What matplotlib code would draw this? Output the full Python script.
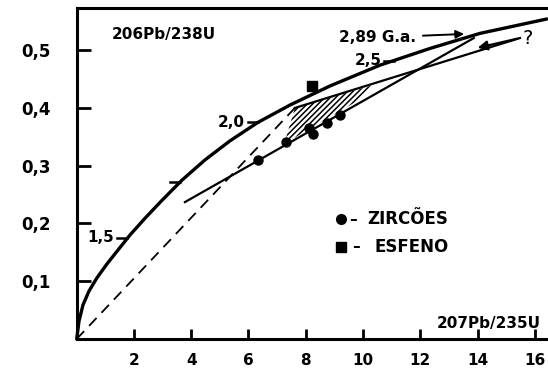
import matplotlib
matplotlib.use("Agg")
import matplotlib.pyplot as plt
from matplotlib.patches import Polygon

plt.rcParams["font.family"] = ["DejaVu Sans"]
plt.rcParams["font.weight"] = "bold"
plt.rcParams["hatch.linewidth"] = 1.1

# concordia curve
conc_x = [0, 0.080, 0.220, 0.429, 0.709, 1.058, 1.442, 1.861, 2.385, 2.978, 3.677,
          4.480, 5.353, 6.330, 7.448, 8.844, 10.59, 12.34, 14.08, 16.42]
conc_y = [0, 0.031, 0.059, 0.083, 0.106, 0.130, 0.154, 0.180, 0.209, 0.240, 0.275,
          0.310, 0.343, 0.375, 0.405, 0.438, 0.474, 0.503, 0.529, 0.554]

# age marks on the concordia (G.a.)
age_labels = ["1,5", "", "2,0", "2,5"]
age_x = [1.76, 3.61, 6.33, 11.09]
age_y = [0.175, 0.272, 0.375, 0.482]

# zircons and sphene
zircon_x = [6.33, 7.31, 8.11, 8.25, 8.74, 9.19]
zircon_y = [0.310, 0.341, 0.365, 0.355, 0.374, 0.388]
sphene_x = [8.22]
sphene_y = [0.438]

# discordia through zircons
disc_x = [3.78, 13.87]
disc_y = [0.237, 0.521]

# dashed line from origin
dash_x = [0, 7.62]
dash_y = [0, 0.400]

# upper line towards "?"
q_x = [7.62, 15.48]
q_y = [0.400, 0.521]

# hatched field
hatch_x = [7.25, 7.62, 10.30, 9.80]
hatch_y = [0.338, 0.400, 0.439, 0.412]

fig = plt.figure(figsize=(5.48, 3.74), dpi=100)
ax = fig.add_axes([76.7 / 548, 35 / 374, 471.3 / 548, 331 / 374])

ax.plot(conc_x, conc_y, color="black", lw=2.4, solid_capstyle="round",
        solid_joinstyle="round", clip_on=False)
ax.plot(disc_x, disc_y, color="black", lw=1.6)
ax.plot(dash_x, dash_y, color="black", lw=1.3, dashes=(6, 4))
ax.plot(q_x, q_y, color="black", lw=1.6)

ax.add_patch(Polygon(list(zip(hatch_x, hatch_y)), closed=True, fill=False,
                     hatch="//////", lw=0, edgecolor="black"))

for lab, x, y in zip(age_labels, age_x, age_y):
    ax.plot([x - 0.35, x], [y, y], color="black", lw=1.8)
    if lab:
        ax.text(x - 0.45, y, lab, ha="right", va="center", fontsize=11)

ax.plot(zircon_x, zircon_y, "o", color="black", ms=6.5)
ax.plot(sphene_x, sphene_y, "s", color="black", ms=7)

# arrows
ax.annotate("", xy=(13.91, 0.503), xytext=(15.48, 0.521),
            arrowprops=dict(arrowstyle="-|>", color="black", lw=1.6, mutation_scale=14))
ax.text(15.76, 0.521, "?", ha="center", va="center", fontsize=14, fontweight="normal")
ax.annotate("2,89 G.a.", xy=(13.53, 0.528), xytext=(11.85, 0.522), ha="right", va="center",
            fontsize=11,
            arrowprops=dict(arrowstyle="-|>", color="black", lw=1.4, mutation_scale=12,
                            shrinkA=3, shrinkB=0))

# axis titles and legend
ax.text(0.075, 0.921, "206Pb/238U", transform=ax.transAxes, ha="left", va="center", fontsize=11)
ax.text(0.985, 0.048, "207Pb/235U", transform=ax.transAxes, ha="right", va="center", fontsize=11)
ax.plot([0.561], [0.3625], "o", color="black", ms=7, transform=ax.transAxes)
ax.plot([0.561], [0.278], "s", color="black", ms=7, transform=ax.transAxes)
ax.text(0.578, 0.3625, "–", transform=ax.transAxes, ha="left", va="center", fontsize=11)
ax.text(0.584, 0.278, "–", transform=ax.transAxes, ha="left", va="center", fontsize=11)
ax.text(0.616, 0.3625, "ZIRCÕES", transform=ax.transAxes, ha="left", va="center", fontsize=12)
ax.text(0.631, 0.278, "ESFENO", transform=ax.transAxes, ha="left", va="center", fontsize=12)

ax.set_xlim(0, 16.46)
ax.set_ylim(0, 0.573)

xticks = [2, 4, 6, 8, 10, 12, 14, 16]
yticks = [0.1, 0.2, 0.3, 0.4, 0.5]
ytick_labels = ["0,1", "0,2", "0,3", "0,4", "0,5"]
ax.set_xticks(xticks)
ax.set_xticklabels([str(t) for t in xticks], fontsize=11)
ax.set_yticks(yticks)
ax.set_yticklabels(ytick_labels, fontsize=12)
ax.tick_params(axis="x", direction="in", length=7, width=2, pad=10)
ax.tick_params(axis="y", direction="in", length=10, width=2, pad=19)

ax.spines["right"].set_visible(False)
for s in ["left", "bottom", "top"]:
    ax.spines[s].set_linewidth(2.2)

fig.savefig("out.png", dpi=100)
